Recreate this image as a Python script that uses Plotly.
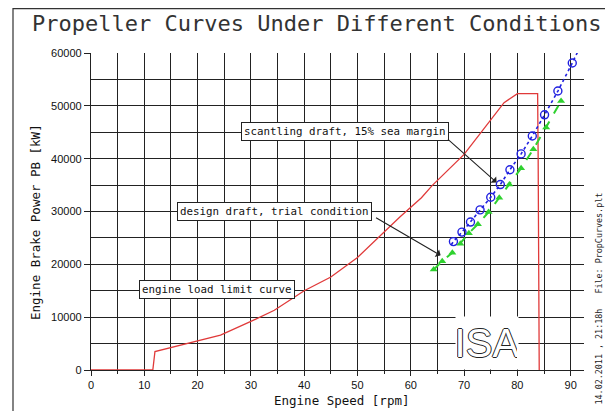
import plotly.graph_objects as go

# ---- data ----
red_x = [0, 11.6, 12.0, 20.0, 24.3, 30.0, 34.4, 40.0, 45.0, 50.0, 54.5, 58.0, 62.0, 64.0, 70.0, 77.5, 80.0, 83.8, 83.9, 84.1]
red_y = [0, 0, 3500, 5600, 6600, 9200, 11300, 15000, 17600, 21300, 25700, 29000, 32600, 34900, 40800, 50600, 52300, 52300, 40000, 0]

blue_x = [68.0, 69.6, 71.2, 73.0, 75.0, 76.8, 78.6, 80.7, 82.8, 85.1, 87.6, 90.3]
blue_y = [24300, 26100, 28000, 30300, 32700, 35100, 37900, 40900, 44300, 48300, 52800, 58100]
blue_line_x = [67.6] + blue_x + [91.5]
blue_line_y = [23700] + blue_y + [60600]

green_x = [64.3, 65.9, 67.8, 69.3, 70.9, 72.6, 74.6, 76.6, 78.5, 80.7, 83.0, 85.4, 88.2]
green_y = [19000, 20600, 22200, 23900, 25900, 27600, 29900, 32600, 35100, 38200, 41800, 45900, 50900]

x_ticks = [0, 10, 20, 30, 40, 50, 60, 70, 80, 90]
y_ticks = [0, 10000, 20000, 30000, 40000, 50000, 60000]

title = "Propeller Curves Under Different Conditions"
x_title = "Engine Speed [rpm]"
y_title = "Engine Brake Power PB [kW]"
side_text = "14.02.2011 , 21:18h   File: PropCurves.plt"
lbl_scant = "scantling draft, 15% sea margin"
lbl_design = "design draft, trial condition"
lbl_engine = "engine load limit curve"

MONO = "DejaVu Sans Mono"
SANS = "Liberation Sans, Arial, sans-serif"

fig = go.Figure()
fig.add_trace(go.Scatter(x=red_x, y=red_y, mode="lines",
                         line=dict(color="#e03a3a", width=1.3), showlegend=False, cliponaxis=False))
fig.add_trace(go.Scatter(x=green_x, y=green_y, mode="lines",
                         line=dict(color="#2fd12f", width=2, dash="dash"), showlegend=False))
fig.add_trace(go.Scatter(x=green_x, y=green_y, mode="markers",
                         marker=dict(symbol="triangle-up", size=7, color="#2fd12f"), showlegend=False))
fig.add_trace(go.Scatter(x=blue_line_x, y=blue_line_y, mode="lines",
                         line=dict(color="#2020e0", width=1.6, dash="dot"), showlegend=False))
fig.add_trace(go.Scatter(x=blue_x, y=blue_y, mode="markers",
                         marker=dict(symbol="circle-open", size=8, color="#2020e0", line=dict(width=1.4)),
                         showlegend=False))

OFF = 8  # page body margin
L, R, T, B = 83, 21, 45, 41
W, H = 597, 403
pw, ph = W - L - R, H - T - B


def px(p):
    return (p - OFF - L) / pw


def py(q):
    return (H - B - (q - OFF)) / ph


ann = []
ann.append(dict(text=title, xref="paper", yref="paper", x=px(317), y=py(24),
                xanchor="center", yanchor="middle", showarrow=False,
                font=dict(family=MONO, size=22, color="#333")))
ann.append(dict(text=x_title, xref="paper", yref="paper", x=px(341), y=py(400),
                xanchor="center", yanchor="middle", showarrow=False,
                font=dict(family=MONO, size=12.5, color="#111")))
ann.append(dict(text=y_title, xref="paper", yref="paper", x=px(35), y=py(222),
                xanchor="center", yanchor="middle", showarrow=False, textangle=-90,
                font=dict(family=MONO, size=12.5, color="#111")))
ann.append(dict(text=side_text, xref="paper", yref="paper", x=px(598.5), y=py(299),
                xanchor="center", yanchor="middle", showarrow=False, textangle=-90,
                font=dict(family=MONO, size=8.4, color="#222")))

box = dict(showarrow=False, bgcolor="white", bordercolor="#222", borderwidth=1, borderpad=2,
           font=dict(family=MONO, size=10.8, color="#111"), xanchor="center", yanchor="middle")
ann.append(dict(text=lbl_scant, x=47.6, y=45200, **box))
ann.append(dict(text=lbl_design, x=34.5, y=30050, **box))
ann.append(dict(text=lbl_engine, x=23.7, y=15200, **box))

arrow = dict(text="", showarrow=True, arrowhead=1, arrowsize=1.3, arrowwidth=1.1,
             arrowcolor="#222", axref="x", ayref="y", standoff=0, startstandoff=0)
ann.append(dict(x=76.1, y=35500, ax=66.7, ay=43900, **arrow))
ann.append(dict(x=65.6, y=21700, ax=53.2, ay=29000, **arrow))

ann.append(dict(text="ISA", x=74.3, y=5100, showarrow=False, width=60, height=50,
                bgcolor="white", xanchor="center", yanchor="middle",
                font=dict(family=SANS, size=40, color="white",
                          shadow="1px 0 0 #222, -1px 0 0 #222, 0 1px 0 #222, 0 -1px 0 #222")))

shapes = [dict(type="rect", xref="paper", yref="paper", x0=px(13), y0=py(8.6), x1=px(640), y1=py(450),
               line=dict(color="#333", width=1.2), fillcolor="rgba(0,0,0,0)", layer="above")]

fig.update_layout(
    width=W, height=H, margin=dict(l=L, r=R, t=T, b=B, pad=0, autoexpand=False),
    paper_bgcolor="white", plot_bgcolor="white",
    annotations=ann, shapes=shapes, showlegend=False,
    xaxis=dict(range=[0, 92.5], tickvals=x_ticks, ticktext=[str(v) for v in x_ticks],
               ticks="outside", ticklen=5, tickcolor="#222", tickwidth=1.2,
               showgrid=True, gridcolor="#222", gridwidth=1.2,
               minor=dict(dtick=5, showgrid=True, gridcolor="#222", gridwidth=1.2,
                          ticks="outside", ticklen=3, tickcolor="#222"),
               showline=True, linecolor="#222", linewidth=1.3, zeroline=False,
               layer="below traces",
               tickfont=dict(family=SANS, size=11, color="#111")),
    yaxis=dict(range=[0, 60000], tickvals=y_ticks, ticktext=[str(v) for v in y_ticks],
               ticks="outside", ticklen=6, tickcolor="#222", tickwidth=1.2,
               showgrid=True, gridcolor="#222", gridwidth=1.2,
               minor=dict(dtick=5000, showgrid=True, gridcolor="#222", gridwidth=1.2),
               showline=True, linecolor="#222", linewidth=1.3, zeroline=False,
               layer="below traces",
               tickfont=dict(family=SANS, size=11, color="#111")),
)

fig.write_html("out.html")
